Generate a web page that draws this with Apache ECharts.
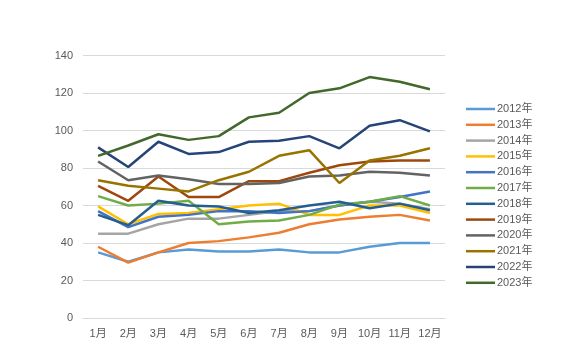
<!DOCTYPE html>
<html><head><meta charset="utf-8">
<script src="https://cdn.jsdelivr.net/npm/echarts@6/dist/echarts.min.js"></script>
<style>html,body{margin:0;padding:0;background:#fff}#c{width:580px;height:350px}</style>
</head><body><div id="c"></div>
<script>
const months = ['1月','2月','3月','4月','5月','6月','7月','8月','9月','10月','11月','12月'];
const seriesNames = ['2012年','2013年','2014年','2015年','2016年','2017年','2018年','2019年','2020年','2021年','2022年','2023年'];
const y2012 = [35, 30, 35, 36.5, 35.5, 35.5, 36.5, 35, 35, 38, 40, 40];
const y2013 = [38, 29.5, 35, 40, 41, 43, 45.5, 50, 52.5, 54, 55, 52];
const y2014 = [45, 45, 50, 53, 53, 55, 57, 57, 60, 62, 61, 58];
const y2015 = [59.5, 50, 55.5, 56, 58, 60, 61, 55, 55, 60, 60, 56];
const y2016 = [57, 48.5, 54, 55, 57, 57, 56, 57, 60, 62, 64.5, 67.5];
const y2017 = [65, 60, 61, 62.5, 50, 51.5, 52, 55, 60.5, 62, 65, 60];
const y2018 = [55, 49.5, 62.5, 60, 59.5, 56, 57.5, 60, 62, 58.5, 61, 57.5];
const y2019 = [70.5, 62.5, 75.5, 64.5, 64.5, 73, 73, 77.5, 81.5, 83.5, 84, 84];
const y2020 = [83.5, 73.5, 76, 74, 71.5, 71.5, 72, 75.5, 76, 78, 77.5, 76];
const y2021 = [73.5, 70.5, 69, 67.5, 73.5, 78, 86.5, 89.5, 72, 84, 86.5, 90.5];
const y2022 = [91, 80.5, 94, 87.5, 88.5, 94, 94.5, 97, 90.5, 102.5, 105.5, 99.5];
const y2023 = [86.5, 92, 98, 95, 97, 107, 109.5, 120, 122.5, 128.5, 126, 122];
const allValues = [y2012,y2013,y2014,y2015,y2016,y2017,y2018,y2019,y2020,y2021,y2022,y2023];
const colors = ['#5B9BD5','#ED7D31','#A5A5A5','#FFC000','#4472C4','#70AD47','#255E91','#9E480E','#636363','#997300','#264478','#43682B'];

const chart = echarts.init(document.getElementById('c'));
chart.setOption({
  animation: false,
  color: colors,
  grid: {left: 83, right: 135, top: 55.5, bottom: 32},
  legend: {
    orient: 'vertical', left: 461, top: 98,
    icon: 'rect', itemWidth: 29, itemHeight: 2.5, itemGap: 3.8,
    textStyle: {color: '#595959', fontSize: 11, lineHeight: 12, fontFamily: 'Liberation Sans, Noto Sans CJK SC', padding: [0,0,0,-3]},
    data: seriesNames
  },
  xAxis: {
    type: 'category', data: months, boundaryGap: true,
    axisLine: {lineStyle: {color: '#D9D9D9', width: 1}},
    axisTick: {show: false},
    axisLabel: {interval: 0, color: '#595959', fontSize: 11, margin: 10, fontFamily: 'Liberation Sans, Noto Sans CJK SC'}
  },
  yAxis: {
    type: 'value', min: 0, max: 140, interval: 20,
    axisLine: {show: false}, axisTick: {show: false},
    splitLine: {lineStyle: {color: '#D9D9D9', width: 1}},
    axisLabel: {color: '#595959', fontSize: 11, margin: 10, fontFamily: 'Liberation Sans, Noto Sans CJK SC'}
  },
  series: seriesNames.map((n, i) => ({
    name: n, type: 'line', data: allValues[i], symbol: 'none',
    lineStyle: {width: 2.5, color: colors[i]}, itemStyle: {color: colors[i]}
  }))
});
</script></body></html>
